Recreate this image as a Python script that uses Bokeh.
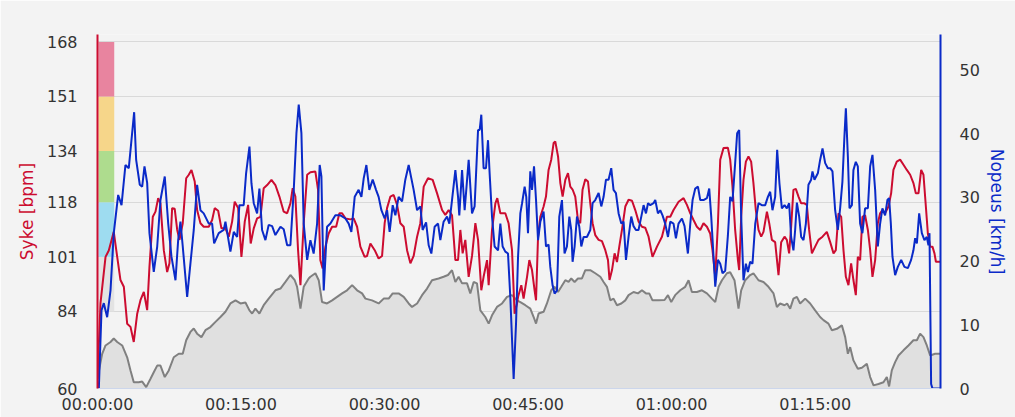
from bokeh.plotting import figure
from bokeh.models import Range1d, LinearAxis, FixedTicker
from bokeh.embed import file_html
from bokeh.resources import INLINE

# ---------------- data (time in minutes) ----------------
t_hr = [0, 0.31, 0.84, 1.18, 1.70, 2.06, 2.40, 2.75, 3.10, 3.45, 3.79, 4.15, 4.49, 4.84, 5.19, 5.43, 5.78, 6.06, 6.34, 6.58,
        6.93, 7.28, 7.52, 7.80, 8.07, 8.33, 8.57, 8.91, 9.27, 9.54, 9.82, 10.16, 10.41, 10.76, 11.10, 11.63, 11.98, 12.25, 12.61, 12.95,
        13.37, 13.72, 14.07, 14.34, 14.70, 15.04, 15.39, 15.74, 16.01, 16.33, 16.68, 17.03, 17.37, 17.73, 18.18, 18.59, 19.01, 19.46, 19.82, 20.16,
        20.40, 20.68, 20.96, 21.21, 21.55, 21.91, 22.25, 22.77, 23.05, 23.29, 23.53, 23.82, 24.16, 24.52, 24.94, 25.28, 25.56, 25.91, 26.43, 26.77,
        27.13, 27.47, 27.92, 28.17, 28.52, 28.97, 29.38, 29.74, 30.01, 30.26, 30.61, 30.95, 31.31, 31.65, 32.00, 32.35, 32.70, 33.04, 33.40, 33.74,
        34.09, 34.54, 35.03, 35.49, 36.01, 36.35, 36.70, 37.05, 37.40, 37.68, 37.92, 38.16, 38.44, 38.79, 39.14, 39.49, 39.77, 40.11, 40.35, 40.71,
        40.88, 41.23, 41.58, 41.78, 42.10, 42.62, 42.96, 43.32, 43.59, 43.84, 43.95, 44.29, 44.53, 44.89, 45.13, 45.41, 45.68, 45.83, 46.04, 46.28,
        46.62, 46.87, 47.14, 47.42, 47.67, 47.84, 48.13, 48.37, 48.61, 48.89, 49.17, 49.41, 49.65, 49.93, 50.21, 50.45, 50.69, 50.98, 51.26, 51.50,
        51.74, 52.02, 52.37, 52.72, 53.07, 53.35, 53.51, 53.77, 54.04, 54.29, 54.53, 54.81, 55.16, 55.50, 55.86, 56.20, 56.55, 56.90, 57.24, 57.59,
        58.00, 58.47, 58.99, 59.51, 59.86, 60.20, 60.73, 61.25, 61.60, 61.95, 62.29, 62.64, 62.99, 63.33, 63.69, 64.03, 64.27, 64.56, 64.84, 65.08,
        65.42, 65.88, 66.12, 66.36, 66.64, 66.93, 67.06, 67.27, 67.51, 67.76, 68.03, 68.31, 68.55, 68.80, 69.08, 69.36, 69.60, 69.96, 70.20, 70.48,
        70.82, 71.17, 71.45, 71.80, 72.04, 72.28, 72.49, 72.73, 72.98, 73.26, 73.54, 73.88, 74.13, 74.37, 74.66, 75.00, 75.35, 75.77, 76.22, 76.57,
        76.92, 77.16, 77.44, 77.72, 77.96, 78.21, 78.48, 78.76, 79.00, 79.25, 79.46, 79.70, 79.94, 80.22, 80.51, 80.75, 80.99, 81.27, 81.55, 81.79,
        82.03, 82.31, 82.66, 82.94, 83.18, 83.53, 83.88, 84.23, 84.58, 84.93, 85.27, 85.52, 85.80, 86.08, 86.32, 86.57, 86.78, 87.02, 87.26, 87.47,
        87.62, 88.06]
hr = [63, 86.5, 101, 103, 108.8, 101, 93.8, 91.7, 80.2, 79.2, 74.5, 83.3, 87.5, 90.1, 84.4, 97.9, 113.5, 115.1, 119.3, 117.7,
      103.1, 96.3, 99, 116.2, 116, 109.4, 106.3, 111.5, 125.5, 126.6, 128.1, 124.5, 115.6, 111.5, 110.4, 110.4, 112.5, 116.2, 115.4, 109.9,
      109.9, 107.3, 112, 118.2, 116.2, 101, 112, 117.2, 105.2, 109.9, 113, 113.5, 122.4, 123.4, 125, 123.4, 119.8, 115.1, 114.6, 117.7,
      122.4, 119.8, 103.1, 92.2, 111.5, 126.6, 127.4, 127.6, 121.9, 100, 97.4, 104.2, 108.3, 110.4, 110.4, 114.6, 114.6, 113, 112.7, 113,
      110.4, 104.2, 101, 101.3, 105.2, 103.1, 100.5, 101.3, 111.5, 116.2, 119.8, 120.3, 117.2, 111.5, 110.4, 103.1, 99, 101.3, 107.3, 111.5,
      122.9, 125.5, 125, 120.8, 115.6, 114.1, 115.6, 114, 100, 100, 109.4, 102.1, 106.3, 94.8, 101.3, 111.5, 106.3, 90.6, 94.8, 100,
      92.2, 109.4, 117.7, 119.3, 114.6, 114.6, 111.5, 103.1, 83.3, 86.4, 88.5, 92.2, 88, 94.8, 100, 96.9, 90.6, 87.5, 107.3, 113.5,
      116.7, 119.8, 128.1, 131.3, 136.5, 137, 132.3, 124, 119.8, 125, 127.1, 122.9, 122, 119.8, 112.5, 111.5, 121.9, 125.2, 124.5, 117.7,
      111.5, 107.8, 106.3, 105.9, 103.1, 100, 93.8, 96.9, 102.1, 99.4, 104.2, 109.4, 116.7, 118.8, 118.5, 115.6, 112, 110.4, 110.1, 107.3,
      101, 104.2, 107.3, 113.5, 113.5, 115.6, 118.2, 119.3, 117.2, 114.6, 112.5, 110.4, 109.4, 111.5, 110.4, 108.3, 103.1, 94.8, 111.5, 131.3,
      134.9, 135, 131.3, 122.9, 109.4, 100, 96.9, 113.5, 125, 130.7, 132.3, 130.7, 124, 115.6, 109.4, 107.3, 108.8, 115.1, 111.5, 106.3,
      105.6, 95.3, 105.6, 107.3, 106.3, 102.1, 110.4, 121.9, 122.2, 119.8, 117.7, 117.7, 117.2, 109.4, 102.1, 104.2, 106.3, 107.3, 108.8, 105.6,
      102.1, 103.1, 114.6, 113.5, 103.1, 94.8, 92.2, 99, 93.8, 89.1, 101, 100, 113.5, 114, 109.4, 103.1, 94.8, 100, 111.5, 114.6,
      115.6, 114.6, 116.7, 120.8, 128.1, 130.7, 131.3, 129.7, 128.1, 126.6, 124, 120.8, 120.8, 128.1, 126.6, 116.7, 108.3, 104.2, 104.2, 102.1,
      99.5, 99.5]

t_spd = [0, 0.14, 0.42, 0.66, 1.01, 1.36, 1.70, 2.16, 2.51, 2.92, 3.27, 3.55, 3.83, 4.04, 4.42, 4.67, 4.91, 5.19, 5.43, 5.88,
         6.24, 6.58, 7.03, 7.39, 7.73, 8.15, 8.43, 8.67, 8.91, 9.37, 9.71, 10.06, 10.41, 10.76, 11.10, 11.63, 11.98, 12.19, 12.67, 13.19,
         13.37, 13.89, 14.24, 14.59, 14.83, 15.28, 15.53, 15.88, 16.09, 16.33, 16.68, 16.92, 17.20, 17.55, 17.89, 18.25, 18.59, 19.12, 19.46, 19.82,
         20.16, 20.51, 20.79, 21.03, 21.31, 21.55, 21.91, 22.25, 22.59, 22.95, 23.22, 23.40, 23.64, 23.99, 24.34, 24.86, 25.38, 25.91, 26.25, 26.53,
         26.88, 27.29, 27.58, 27.82, 28.10, 28.41, 28.76, 29.11, 29.38, 29.67, 30.01, 30.26, 30.53, 30.85, 31.13, 31.47, 31.83, 32.17, 32.52, 32.80,
         33.04, 33.40, 33.74, 33.98, 34.34, 34.61, 34.89, 35.23, 35.59, 35.83, 36.17, 36.53, 36.77, 37.05, 37.40, 37.68, 37.81, 38.10, 38.37, 38.79,
         39.14, 39.41, 39.77, 39.94, 40.11, 40.35, 40.60, 40.81, 40.98, 41.23, 41.50, 41.86, 42.10, 42.34, 42.62, 42.90, 43.14, 43.49, 43.74, 43.95,
         44.19, 44.37, 44.64, 44.81, 44.99, 45.23, 45.41, 45.62, 45.83, 46.04, 46.28, 46.62, 46.87, 47.14, 47.32, 47.56, 47.77, 48.02, 48.26, 48.54,
         48.81, 49.06, 49.31, 49.51, 49.65, 49.86, 50.11, 50.35, 50.56, 50.80, 51.15, 51.50, 51.74, 52.02, 52.37, 52.65, 52.89, 53.14, 53.41, 53.69,
         53.93, 54.18, 54.46, 54.74, 54.98, 55.23, 55.50, 55.78, 56.02, 56.27, 56.54, 56.83, 57.07, 57.32, 57.53, 57.77, 58.11, 58.29, 58.57, 58.81,
         59.05, 59.33, 59.62, 59.86, 60.20, 60.45, 60.72, 61.08, 61.35, 61.70, 61.95, 62.19, 62.47, 62.75, 62.99, 63.33, 63.69, 63.93, 64.14, 64.38,
         64.56, 64.84, 65.08, 65.32, 65.60, 65.88, 66.12, 66.36, 66.64, 66.85, 67.06, 67.27, 67.51, 67.76, 67.97, 68.21, 68.45, 68.74, 69.08, 69.43,
         69.78, 70.06, 70.30, 70.54, 70.82, 71.03, 71.27, 71.52, 71.80, 72.04, 72.28, 72.49, 72.73, 72.91, 73.09, 73.33, 73.54, 73.78, 74.03, 74.30,
         74.58, 74.72, 74.93, 75.28, 75.52, 75.77, 76.05, 76.33, 76.57, 76.81, 77.09, 77.37, 77.61, 77.85, 78.06, 78.21, 78.42, 78.59, 78.84, 79.00,
         79.25, 79.46, 79.70, 79.94, 80.22, 80.51, 80.75, 80.99, 81.27, 81.55, 81.79, 82.03, 82.31, 82.55, 82.73, 82.91, 83.08, 83.36, 83.64, 83.99,
         84.33, 84.69, 85.03, 85.27, 85.45, 85.63, 85.87, 86.15, 86.42, 86.67, 86.84, 86.95, 87.12, 87.26, 88.06]
spd = [0, 0, 12.3, 13.4, 11.2, 15.4, 24.4, 30.4, 28.8, 35.1, 34.6, 39, 43.4, 35.9, 32, 31.7, 34.9, 32.3, 24.4, 18.3,
       22.3, 29.6, 33.3, 25.9, 20.7, 17, 23.3, 26.2, 22.3, 14.4, 19.6, 24.9, 32, 28, 27.5, 25.9, 25.9, 22.8, 24.4, 24.9,
       26.2, 21.5, 24.6, 23.8, 28.8, 28.8, 33.8, 38, 32.2, 29.1, 27.5, 31.4, 24.9, 23.3, 25.7, 25.5, 24.1, 25.4, 25, 22.5,
       22.5, 31.2, 40.1, 44.6, 40.1, 25.9, 20.2, 23.3, 21.2, 25.9, 35.1, 33.3, 15.4, 25.4, 25.9, 27.2, 27.2, 26.7, 25.9, 24.6,
       30.1, 31.2, 30.1, 33, 35.1, 31.2, 32.8, 31.2, 30.1, 28, 26.7, 28, 24.6, 28.8, 27.2, 30.1, 29.4, 32.8, 35.1, 33,
       31.2, 28, 28.6, 24.9, 26.1, 22.5, 21.2, 25.4, 25.9, 23.3, 26.2, 27, 25.9, 29.6, 34.3, 30.1, 27.2, 34.3, 28, 35.9,
       27.5, 28.6, 40.6, 40.6, 43, 34.6, 34.6, 39, 33.8, 27, 22.3, 21.7, 25.9, 22.3, 21.5, 21.2, 14.4, 1.5, 10.2, 20.7,
       27.5, 29.1, 31.7, 30.1, 24.4, 34.1, 31.2, 34.9, 29.6, 23.3, 26.2, 27.8, 22.3, 22.6, 19.1, 16.2, 14.9, 15.4, 27, 29.6,
       21.2, 22.3, 27, 24.9, 19.9, 22.3, 27, 25.4, 22.3, 23.8, 23.8, 24.9, 29.1, 29.6, 30.7, 28.6, 30.1, 32.8, 32.8, 34.6,
       31.2, 30.7, 27.5, 25.9, 26.2, 20.2, 23.8, 27, 25.5, 24.9, 24.9, 27, 28.8, 27.5, 29.1, 28.8, 29.1, 29.6, 27.5, 28,
       27.2, 25.9, 23.8, 26.2, 25.9, 23.6, 25.9, 26.7, 25.5, 21.2, 25.9, 29.6, 31.4, 31.7, 29.6, 29.6, 29.9, 31.4, 27, 20.7,
       16, 20.2, 19.6, 18.1, 18.5, 24, 30.1, 29.4, 35.4, 40.1, 40.6, 27, 17, 19.6, 18.3, 19.9, 19.6, 25.9, 29.1, 28.8,
       28.8, 30.1, 30.9, 28, 30.1, 37.5, 32.2, 28.3, 28.8, 28.3, 29.1, 23.8, 21.7, 24.9, 29.2, 27, 23.8, 23.3, 25.9, 32,
       32.8, 34.1, 32.8, 33.8, 35.9, 37.7, 35.4, 34.6, 34.6, 34.1, 28, 24.9, 28.3, 32.5, 39.6, 44, 36.4, 28.3, 28.8, 34.3,
       35.6, 34.9, 25.9, 24.4, 28.3, 28.3, 34.9, 36.7, 31.2, 22.3, 25.9, 28.3, 27.2, 29.6, 29.9, 25.9, 20.7, 17.8, 19.1, 20.2,
       19.1, 18.9, 20.2, 21.7, 23.6, 22.8, 27.5, 24.4, 23.3, 23.8, 22.5, 24.4, 0.7, 0, 0]

t_alt = [0, 0.14, 0.49, 0.84, 1.36, 1.70, 2.06, 2.58, 3.10, 3.45, 3.79, 4.31, 4.67, 5.09, 5.54, 5.88, 6.24, 6.58, 7.03, 7.45,
         7.97, 8.49, 8.91, 9.27, 9.71, 10.06, 10.41, 10.86, 11.28, 11.80, 12.33, 12.85, 13.37, 13.89, 14.42, 14.94, 15.46, 15.88, 16.16, 16.50,
         16.92, 17.37, 17.89, 18.59, 19.12, 19.64, 20.16, 20.61, 20.86, 21.21, 21.55, 22.07, 22.25, 22.77, 23.12, 23.47, 23.99, 24.52, 25.04, 25.56,
         26.08, 26.61, 27.13, 27.65, 28.00, 28.69, 29.38, 29.91, 30.43, 30.85, 31.47, 32.00, 32.52, 32.87, 33.40, 33.92, 34.44, 34.96, 35.65, 36.17,
         36.63, 37.05, 37.40, 37.74, 38.10, 38.62, 38.96, 39.31, 39.66, 40.01, 40.53, 40.88, 41.23, 41.75, 42.28, 42.80, 43.32, 43.84, 44.19, 44.71,
         45.23, 45.58, 45.83, 46.10, 46.62, 46.97, 47.42, 47.77, 48.13, 48.47, 48.89, 49.23, 49.51, 49.86, 50.21, 50.63, 50.98, 51.50, 52.02, 52.55,
         52.89, 53.24, 53.59, 53.93, 54.29, 54.74, 55.16, 55.50, 56.02, 56.48, 56.90, 57.32, 57.66, 58.00, 58.63, 59.26, 59.62, 59.96, 60.37, 60.90,
         61.42, 61.77, 62.12, 62.64, 63.17, 63.69, 64.21, 64.56, 64.91, 65.26, 65.78, 66.12, 66.57, 66.82, 66.99, 67.27, 67.69, 68.21, 68.55, 69.08,
         69.60, 70.12, 70.65, 71.00, 71.34, 71.80, 72.07, 72.39, 72.73, 73.09, 73.43, 73.96, 74.48, 75.00, 75.52, 75.87, 76.39, 76.75, 77.27, 77.79,
         78.14, 78.42, 78.66, 79.00, 79.46, 79.88, 80.40, 80.75, 81.10, 81.62, 82.14, 82.49, 82.73, 83.01, 83.36, 83.71, 84.23, 84.75, 85.27, 85.63,
         85.97, 86.32, 86.67, 87.02, 87.54, 88.06]
alt = [3, 5, 10, 12.4, 13.4, 14.4, 13.4, 12.4, 9, 5.2, 1.8, 1.8, 2, 0.4, 2.8, 4.7, 6.6, 6.6, 3.3, 5.2,
       9, 10, 10, 13.9, 16.3, 17.3, 15.8, 14.8, 16.8, 17.7, 19.2, 20.6, 22.1, 24.5, 25.4, 24.5, 24.8, 22.5, 21.6, 23,
       21.6, 24, 25.9, 28.3, 28.8, 30.7, 32.7, 31.2, 29.3, 23, 29.3, 31.7, 32.2, 33.2, 31.2, 24.9, 24.5, 25.4, 26.4, 27.4,
       28.3, 29.8, 28.3, 27.4, 25.9, 25.4, 24.5, 25.9, 25.9, 27.4, 27.4, 26.4, 24.5, 23.5, 24.5, 26.9, 28.8, 31.2, 31.7, 32.2,
       32.7, 34.1, 30.7, 32.2, 30.3, 30.3, 27.4, 30.7, 30.3, 22.5, 20.6, 18.7, 21.1, 23.5, 24.5, 26.4, 26.9, 25.4, 24.9, 24,
       23, 20.6, 18.7, 21.6, 22.1, 24.5, 28.3, 29.3, 27.8, 29.3, 31.2, 30.7, 31.7, 30.7, 31.7, 31.7, 34.1, 34.1, 33.2, 32.2,
       30.7, 29.3, 25.4, 25.9, 24, 24.5, 25.4, 26.9, 27.8, 27.4, 28.3, 27.4, 27.4, 25.4, 25.4, 25.5, 26.9, 24.9, 26.9, 28.3,
       29.3, 31.2, 27.8, 27.8, 28.3, 27.4, 25.9, 24.9, 29.3, 31.2, 33.2, 33.5, 31.2, 26.4, 23, 28.3, 31.2, 32.7, 33.2, 31.2,
       30.7, 29.3, 27.4, 23.5, 24.5, 24, 24.5, 23, 25.9, 26.4, 24.5, 25.9, 24.5, 22.5, 20.6, 19.7, 18.7, 16.8, 17.2, 18.2,
       14.8, 10, 11.9, 8.1, 5.7, 6, 7.1, 3.3, 0.9, 1.3, 1.8, 3.3, 0.6, 5.2, 7.6, 9.5, 11, 12.4, 13.9, 13.9,
       15.8, 14.8, 12.4, 9.5, 10, 10]

hr_ticks = [60, 84, 101, 118, 134, 151, 168]
spd_ticks = [0, 10, 20, 30, 40, 50]
time_ticks = [0, 15, 30, 45, 60, 75]
time_labels = ["00:00:00", "00:15:00", "00:30:00", "00:45:00", "01:00:00", "01:15:00"]
zone_bounds = [84, 101, 118, 134, 151, 168]
zone_colors = ["#e3e3e3", "#9edcf0", "#aedc8e", "#f6d68a", "#e8849f"]

RED = "#cc0c30"
BLUE = "#0a2ac8"
BG = "#f3f3f3"
FONT = "DejaVu Sans"

p = figure(width=1015, height=417, output_backend="svg", toolbar_location=None,
           x_range=Range1d(0, 88.1), y_range=Range1d(60, 170.3),
           min_border_left=97, min_border_right=75, min_border_top=34, min_border_bottom=29,
           background_fill_color=BG, border_fill_color=BG, outline_line_color=None)
p.extra_y_ranges = {"spd": Range1d(0, 55.6), "alt": Range1d(0, 102)}

# altitude profile
p.varea(x=t_alt, y1=[0] * len(alt), y2=alt, y_range_name="alt", fill_color="#e0e0e0")
p.line(t_alt, alt, y_range_name="alt", line_color="#808080", line_width=2)

# heart-rate zone bands
p.quad(left=0.1, right=1.75, bottom=zone_bounds[:-1], top=zone_bounds[1:],
       fill_color=zone_colors, line_color=None)

p.line(t_hr, hr, line_color=RED, line_width=2)
p.line(t_spd, spd, y_range_name="spd", line_color=BLUE, line_width=2)

# grid
p.xgrid.visible = False
p.ygrid.ticker = FixedTicker(ticks=hr_ticks[1:])
p.ygrid.grid_line_color = "#d9d9d9"
p.ygrid.grid_line_width = 1

# x axis
xa = p.xaxis[0]
xa.ticker = FixedTicker(ticks=time_ticks)
xa.major_label_overrides = {t: l for t, l in zip(time_ticks, time_labels)}
xa.axis_line_color = "#ccd6eb"
xa.axis_line_width = 1
xa.major_tick_line_color = None
xa.major_tick_out = 0
xa.major_tick_in = 0
xa.minor_tick_line_color = None
xa.minor_tick_out = 0
xa.major_label_standoff = 6
xa.major_label_text_font = FONT
xa.major_label_text_font_size = "16px"
xa.major_label_text_color = "#333333"

# left axis
ya = p.yaxis[0]
ya.ticker = FixedTicker(ticks=hr_ticks)
ya.axis_line_color = RED
ya.axis_line_width = 2
ya.major_tick_line_color = None
ya.major_tick_out = 0
ya.major_tick_in = 0
ya.minor_tick_line_color = None
ya.minor_tick_out = 0
ya.major_label_standoff = 20
ya.major_label_text_font = FONT
ya.major_label_text_font_size = "16px"
ya.major_label_text_color = "#333333"
ya.axis_label = "Syke [bpm]"
ya.axis_label_text_color = RED
ya.axis_label_text_font = FONT
ya.axis_label_text_font_size = "17px"
ya.axis_label_text_font_style = "normal"
ya.axis_label_standoff = 7

# right axis
ra = LinearAxis(y_range_name="spd", ticker=FixedTicker(ticks=spd_ticks))
ra.axis_line_color = BLUE
ra.axis_line_width = 2
ra.major_tick_line_color = None
ra.major_tick_out = 0
ra.major_tick_in = 0
ra.minor_tick_line_color = None
ra.minor_tick_out = 0
ra.major_label_standoff = 19
ra.major_label_text_font = FONT
ra.major_label_text_font_size = "16px"
ra.major_label_text_color = "#333333"
ra.axis_label = "Nopeus [km/h]"
ra.axis_label_text_color = BLUE
ra.axis_label_text_font = FONT
ra.axis_label_text_font_size = "17px"
ra.axis_label_text_font_style = "normal"
ra.axis_label_standoff = 4
p.add_layout(ra, "right")

open("out.html", "w").write(file_html(p, INLINE))
